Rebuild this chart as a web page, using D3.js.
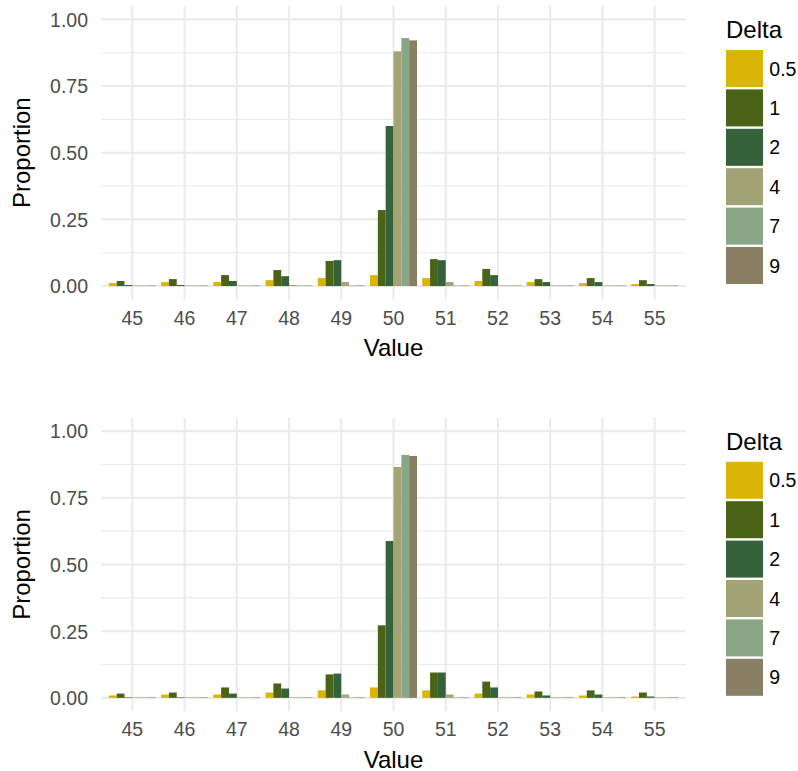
<!DOCTYPE html>
<html>
<head>
<meta charset="utf-8">
<script src="https://cdn.jsdelivr.net/npm/d3@7"></script>
<style>
  html, body { margin: 0; padding: 0; background: #ffffff; }
  svg { display: block; font-family: "Liberation Sans", Arial, sans-serif; }
</style>
</head>
<body>
<svg id="chart" width="798" height="771"></svg>
<script>
// Categories and series
const valueCats = ["45", "46", "47", "48", "49", "50", "51", "52", "53", "54", "55"];
const deltaLevels = ["0.5", "1", "2", "4", "7", "9"];
const deltaColors = ["#dab508", "#4a6316", "#35623a", "#a2a475", "#8ba686", "#897f64"];
const yTicks = [0, 0.25, 0.5, 0.75, 1.0];
const yTickLabels = ["0.00", "0.25", "0.50", "0.75", "1.00"];

// Upper panel proportions, one array per Delta
const upperD05 = [0.011, 0.015, 0.015, 0.022, 0.030, 0.041, 0.030, 0.019, 0.015, 0.011, 0.0075];
const upperD1  = [0.019, 0.026, 0.041, 0.060, 0.094, 0.285, 0.101, 0.064, 0.026, 0.030, 0.022];
const upperD2  = [0.004, 0.004, 0.019, 0.037, 0.097, 0.600, 0.097, 0.041, 0.015, 0.015, 0.0075];
const upperD4  = [0.002, 0.002, 0.002, 0.004, 0.015, 0.880, 0.015, 0.002, 0.002, 0.002, 0.002];
const upperD7  = [0.002, 0.002, 0.002, 0.002, 0.002, 0.930, 0.002, 0.002, 0.002, 0.002, 0.002];
const upperD9  = [0.002, 0.002, 0.002, 0.002, 0.002, 0.921, 0.002, 0.002, 0.002, 0.002, 0.002];

// Lower panel proportions, one array per Delta
const lowerD05 = [0.009, 0.0125, 0.0125, 0.020, 0.028, 0.039, 0.028, 0.016, 0.0125, 0.009, 0.005];
const lowerD1  = [0.016, 0.020, 0.039, 0.054, 0.088, 0.272, 0.095, 0.061, 0.024, 0.028, 0.020];
const lowerD2  = [0.002, 0.002, 0.016, 0.035, 0.091, 0.588, 0.095, 0.039, 0.009, 0.0125, 0.005];
const lowerD4  = [0.002, 0.002, 0.002, 0.002, 0.0125, 0.866, 0.0125, 0.002, 0.002, 0.002, 0.002];
const lowerD7  = [0.002, 0.002, 0.002, 0.002, 0.002, 0.911, 0.002, 0.002, 0.002, 0.002, 0.002];
const lowerD9  = [0.002, 0.002, 0.002, 0.002, 0.002, 0.907, 0.002, 0.002, 0.002, 0.002, 0.002];

const upperSeries = [upperD05, upperD1, upperD2, upperD4, upperD7, upperD9];
const lowerSeries = [lowerD05, lowerD1, lowerD2, lowerD4, lowerD7, lowerD9];

const svg = d3.select("#chart");
const colour = d3.scaleOrdinal().domain(deltaLevels).range(deltaColors);

const grid = "#ebebeb";
const tickGrey = "#4d4d4d";
const tickSize = 19.5;
const titleSize = 24;

function drawPanel(offsetY, series) {
  const panel = { left: 101, right: 686, top: 6 + offsetY, bottom: 299.4 + offsetY };
  const g = svg.append("g");

  const x = d3.scaleBand()
    .domain(valueCats)
    .range([panel.left, panel.right])
    .paddingInner(0.1)
    .paddingOuter(0.15);
  const xInner = d3.scaleBand()
    .domain(deltaLevels)
    .range([0, x.bandwidth()]);
  const y = d3.scaleLinear()
    .domain([-0.05, 1.05])
    .range([panel.bottom, panel.top]);

  // minor horizontal grid
  const minor = d3.range(0.125, 1.0, 0.25);
  g.append("g").selectAll("line").data(minor).join("line")
    .attr("x1", panel.left).attr("x2", panel.right)
    .attr("y1", d => y(d)).attr("y2", d => y(d))
    .attr("stroke", grid).attr("stroke-width", 1.1);

  // major horizontal grid
  g.append("g").selectAll("line").data(yTicks).join("line")
    .attr("x1", panel.left).attr("x2", panel.right)
    .attr("y1", d => y(d)).attr("y2", d => y(d))
    .attr("stroke", grid).attr("stroke-width", 2.1);

  // vertical grid at each category centre
  g.append("g").selectAll("line").data(valueCats).join("line")
    .attr("x1", d => x(d) + x.bandwidth() / 2).attr("x2", d => x(d) + x.bandwidth() / 2)
    .attr("y1", panel.top).attr("y2", panel.bottom)
    .attr("stroke", grid).attr("stroke-width", 2.1);

  // dodged bars
  const rows = [];
  deltaLevels.forEach((dl, i) => {
    series[i].forEach((v, j) => rows.push({ cat: valueCats[j], delta: dl, value: v }));
  });
  g.append("g").selectAll("rect").data(rows).join("rect")
    .attr("x", d => x(d.cat) + xInner(d.delta))
    .attr("width", xInner.bandwidth())
    .attr("y", d => y(d.value))
    .attr("height", d => y(0) - y(d.value))
    .attr("fill", d => colour(d.delta));

  // y axis labels
  const yAxis = d3.axisLeft(y).tickValues(yTicks)
    .tickFormat((d, i) => yTickLabels[i]).tickSize(0).tickPadding(0);
  const ya = g.append("g").attr("transform", `translate(88,0)`).call(yAxis);
  ya.select(".domain").remove();
  ya.selectAll("text")
    .attr("fill", tickGrey).attr("font-size", tickSize)
    .attr("font-family", "Liberation Sans, Arial, sans-serif")
    .attr("dy", "0.35em");

  // x axis labels
  const xAxis = d3.axisBottom(x).tickSize(0).tickPadding(0);
  const xa = g.append("g").attr("transform", `translate(0,${310.5 + offsetY})`).call(xAxis);
  xa.select(".domain").remove();
  xa.selectAll("text")
    .attr("fill", tickGrey).attr("font-size", tickSize)
    .attr("font-family", "Liberation Sans, Arial, sans-serif")
    .attr("y", 0).attr("dy", "0.72em");

  // axis titles
  g.append("text")
    .attr("x", (panel.left + panel.right) / 2).attr("y", 356.2 + offsetY)
    .attr("text-anchor", "middle").attr("font-size", titleSize).attr("fill", "#000")
    .text("Value");
  g.append("text")
    .attr("transform", `translate(30,${(panel.top + panel.bottom) / 2}) rotate(-90)`)
    .attr("text-anchor", "middle").attr("font-size", titleSize).attr("fill", "#000")
    .text("Proportion");

  // legend
  const leg = g.append("g").attr("transform", `translate(726,${offsetY})`);
  leg.append("text").attr("x", 0).attr("y", 38.3)
    .attr("font-size", titleSize).attr("fill", "#000").text("Delta");
  const keyStep = 39.4, keySize = 37, keyTop = 50;
  const items = leg.selectAll("g.key").data(deltaLevels).join("g")
    .attr("class", "key")
    .attr("transform", (d, i) => `translate(0,${keyTop + i * keyStep})`);
  items.append("rect")
    .attr("width", keySize).attr("height", keySize)
    .attr("fill", d => colour(d));
  items.append("text")
    .attr("x", 43.3).attr("y", keySize / 2).attr("dy", "0.36em")
    .attr("font-size", tickSize).attr("fill", "#000")
    .text(d => d);
}

drawPanel(0, upperSeries);
drawPanel(411.8, lowerSeries);
</script>
</body>
</html>
